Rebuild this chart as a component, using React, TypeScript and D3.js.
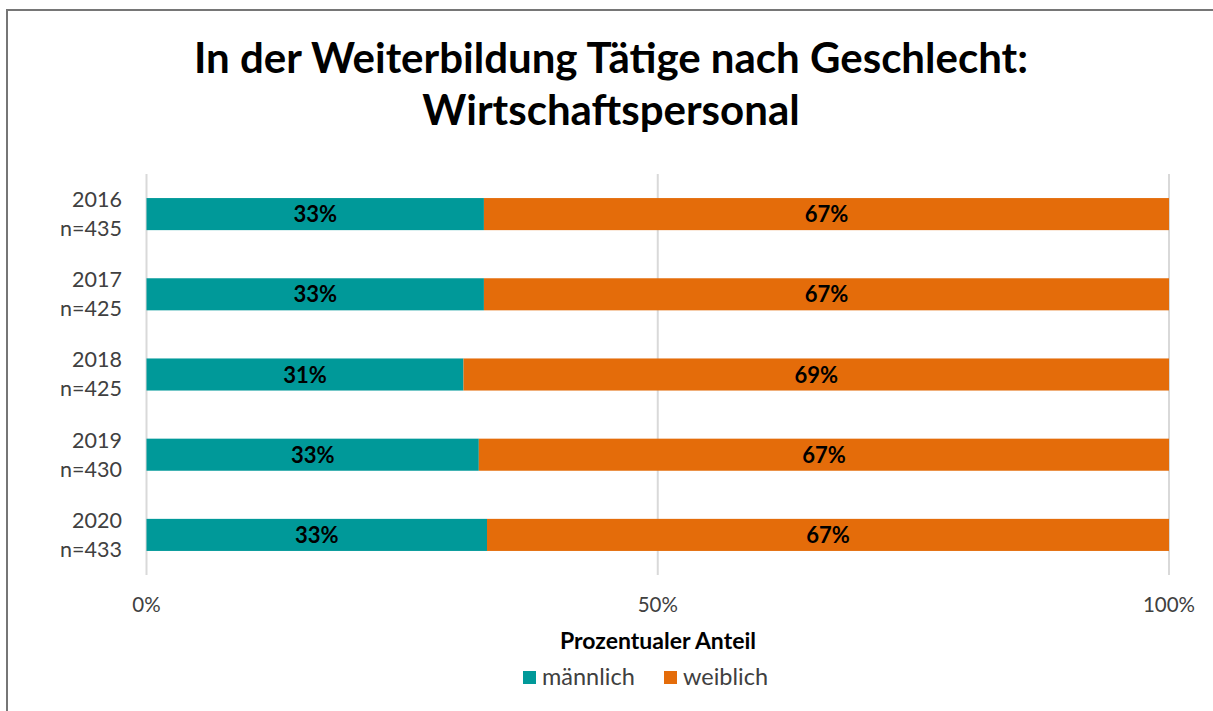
import React from "react";
import * as d3 from "d3";

const years = ["2016", "2017", "2018", "2019", "2020"];
const counts = ["n=435", "n=425", "n=425", "n=430", "n=433"];
const maleShare = [33.0, 33.0, 31.0, 32.5, 33.3];
const femaleShare = [67.0, 67.0, 69.0, 67.5, 66.7];
const maleLabels = ["33%", "33%", "31%", "33%", "33%"];
const femaleLabels = ["67%", "67%", "69%", "67%", "67%"];
const xTicks = [0, 50, 100];
const seriesNames = ["männlich", "weiblich"];
const colors = ["#009999", "#E46C0A"];

const W = 1213;
const H = 711;
const FONT = "Lato, 'Open Sans', sans-serif";

export default function App() {
  const x = d3.scaleLinear().domain([0, 100]).range([146.5, 1169]);
  const y = d3.scaleBand().domain(years).range([174, 575]).paddingInner(0.6).paddingOuter(0.3);
  const rows = years.map((yr, i) => ({
    yr,
    n: counts[i],
    segs: [
      { x0: 0, x1: maleShare[i], label: maleLabels[i], c: colors[0] },
      { x0: maleShare[i], x1: maleShare[i] + femaleShare[i], label: femaleLabels[i], c: colors[1] },
    ],
  }));
  return (
    <svg width={W} height={H} style={{ position: "absolute", left: 0, top: 0 }} fontFamily={FONT}>
      <rect x={0} y={0} width={W} height={H} fill="#fff" />
      <rect x={7} y={10} width={W + 20} height={H + 20} fill="none" stroke="#767676" strokeWidth={2} />
      <text x={611} y={73} textAnchor="middle" fontSize={42} fontWeight={700} fill="#000">
        In der Weiterbildung Tätige nach Geschlecht:
      </text>
      <text x={611} y={125} textAnchor="middle" fontSize={42} fontWeight={700} fill="#000">
        Wirtschaftspersonal
      </text>
      {xTicks.map((t) => (
        <g key={t}>
          <line x1={x(t)} x2={x(t)} y1={174} y2={575} stroke="#D9D9D9" strokeWidth={2} />
          <text x={x(t)} y={612} textAnchor="middle" fontSize={20.5} fill="#404040">
            {t}%
          </text>
        </g>
      ))}
      {rows.map((r) => {
        const yy = y(r.yr)!;
        const bh = y.bandwidth();
        return (
          <g key={r.yr}>
            {r.segs.map((s, j) => (
              <g key={j}>
                <rect x={x(s.x0)} y={yy} width={x(s.x1) - x(s.x0)} height={bh} fill={s.c} />
                <text
                  x={(x(s.x0) + x(s.x1)) / 2}
                  y={yy + bh / 2 + 8}
                  textAnchor="middle"
                  fontSize={22}
                  fontWeight={700}
                  fill="#000"
                >
                  {s.label}
                </text>
              </g>
            ))}
            <text x={122} y={yy + 9} textAnchor="end" fontSize={21.5} fill="#404040">
              {r.yr}
            </text>
            <text x={122} y={yy + 38} textAnchor="end" fontSize={21.5} fill="#404040">
              {r.n}
            </text>
          </g>
        );
      })}
      <text x={658} y={649} textAnchor="middle" fontSize={23} fontWeight={700} fill="#000">
        Prozentualer Anteil
      </text>
      {seriesNames.map((s, i) => {
        const lx = [523, 664][i];
        return (
          <g key={s}>
            <rect x={lx} y={671} width={13} height={13} fill={colors[i]} />
            <text x={lx + 19} y={685} fontSize={23.5} fill="#404040">
              {s}
            </text>
          </g>
        );
      })}
    </svg>
  );
}
